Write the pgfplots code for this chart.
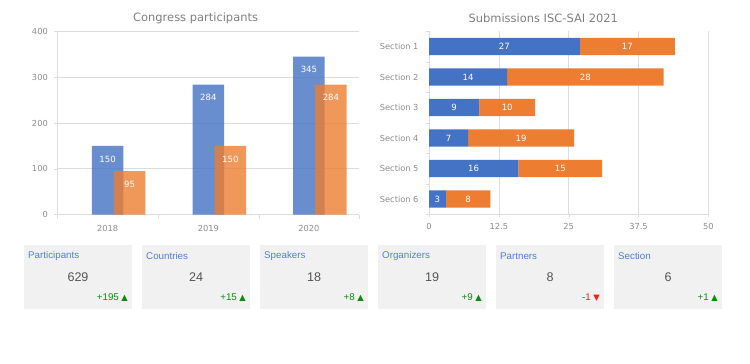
\documentclass[border=0pt]{standalone}
\usepackage{pgfplots}
\pgfplotsset{compat=1.18}
\usepackage{fontspec}
\setmainfont{DejaVu Sans}
\newfontfamily\arial{Liberation Sans}
\newfontfamily\dejavu{DejaVu Sans}
\definecolor{cblue}{HTML}{4472C4}
\definecolor{corange}{HTML}{ED7D31}
\definecolor{gridc}{HTML}{DCDCDC}
\definecolor{tickc}{HTML}{8C8C8C}
\definecolor{titlec}{HTML}{7F7F7F}
\definecolor{cardbg}{HTML}{F1F1F1}
\definecolor{cardtitle}{HTML}{4F7FDA}
\definecolor{cardval}{HTML}{555555}
\definecolor{upgreen}{HTML}{108A10}
\definecolor{downred}{HTML}{FF1A1A}
\newcommand\card[6]{%
  \fill[cardbg] (#1,-244.7) rectangle ++(108,-64);
  \node[anchor=west, inner sep=0, text=cardtitle, font=\arial\fontsize{9.8}{11}\selectfont] at (#1+4,-256) {#2};
  \node[anchor=center, inner sep=0, text=cardval, font=\arial\fontsize{12.6}{14}\selectfont] at (#1+54,-277.3) {#3};
  \node[anchor=east, inner sep=0, text=#5, font=\arial\fontsize{9.8}{11}\selectfont] at (#1+104,-297.7) {#4\hspace{2.5bp}{\dejavu\fontsize{8.4}{9}\selectfont #6}};
}
\begin{document}
\begin{tikzpicture}[x=1bp,y=1bp]
\useasboundingbox[fill=white] (0,0) rectangle (750,-363);
% ---------------- left chart
\begin{axis}[
  at={(57.3bp,-214.5bp)}, anchor=south west,
  scale only axis, width=302bp, height=183bp,
  ymin=0, ymax=400, ytick={0,100,200,300,400},
  xmin=-0.5, xmax=2.5,
  xtick={0,1,2}, xticklabels={2018,2019,2020},
  minor xtick={-0.5,0.5,1.5,2.5},
  major x tick style={draw=none},
  minor x tick style={draw=gridc},
  major y tick style={draw=gridc},
  tick align=outside, major tick length=3bp, minor tick length=4bp,
  axis x line*=bottom, axis y line*=left,
  axis line style={draw=gridc, line width=0.8pt, -},
  ymajorgrids, grid style={draw=gridc, line width=0.6pt},
  tick label style={font=\fontsize{8.3}{10}\selectfont, text=tickc},
  xticklabel style={yshift=-4bp},
  yticklabel style={xshift=-3bp},
  /pgf/number format/assume math mode=true,
  nodes near coords style={anchor=center, yshift=-13bp, text=white, text opacity=1, font=\fontsize{8.6}{10}\selectfont},
]
\addplot[ybar, bar width=31.5bp, bar shift=0bp, fill=cblue, fill opacity=0.8, draw=none, nodes near coords]
  coordinates {(0,150) (1,284) (2,345)};
\addplot[ybar, bar width=31.5bp, bar shift=22bp, fill=corange, fill opacity=0.8, draw=none, nodes near coords,
  nodes near coords style={xshift=22bp}]
  coordinates {(0,95) (1,150) (2,284)};
\end{axis}
\node[text=titlec, font=\fontsize{11.5}{13}\selectfont] at (195.6,-18) {Congress participants};
% ---------------- right chart
\begin{axis}[
  at={(429bp,-214.3bp)}, anchor=south west,
  scale only axis, width=279.3bp, height=183bp,
  xbar stacked, bar width=17.3bp,
  xmin=0, xmax=50, xtick={0,12.5,25,37.5,50},
  ymin=-0.5, ymax=5.5, y dir=reverse,
  ytick={0,1,2,3,4,5},
  yticklabels={Section 1,Section 2,Section 3,Section 4,Section 5,Section 6},
  minor ytick={-0.5,0.5,1.5,2.5,3.5,4.5,5.5},
  major y tick style={draw=none},
  minor y tick style={draw=gridc},
  major x tick style={draw=gridc},
  tick align=outside, major tick length=3bp, minor tick length=3bp,
  axis x line*=bottom, axis y line*=left,
  axis line style={draw=gridc, line width=0.8pt, -},
  xmajorgrids, grid style={draw=gridc, line width=0.6pt},
  tick label style={font=\fontsize{8.3}{10}\selectfont, text=tickc},
  xticklabel style={yshift=-3bp},
  yticklabel style={xshift=-4bp},
  /pgf/number format/assume math mode=true,
  nodes near coords,
  every node near coord/.append style={anchor=center, text=white, font=\fontsize{8.6}{10}\selectfont},
]
\addplot[fill=cblue, draw=none] coordinates {(27,0) (14,1) (9,2) (7,3) (16,4) (3,5)};
\addplot[fill=corange, draw=none] coordinates {(17,0) (28,1) (10,2) (19,3) (15,4) (8,5)};
\end{axis}
\node[text=titlec, font=\fontsize{11.5}{13}\selectfont] at (543.3,-18) {Submissions ISC-SAI 2021};
% ---------------- cards
\card{24}{Participants}{629}{+195}{upgreen}{▲}
\card{142}{Countries}{24}{+15}{upgreen}{▲}
\card{260}{Speakers}{18}{+8}{upgreen}{▲}
\card{378}{Organizers}{19}{+9}{upgreen}{▲}
\card{496}{Partners}{8}{-1}{downred}{▼}
\card{614}{Section}{6}{+1}{upgreen}{▲}
\end{tikzpicture}
\end{document}
